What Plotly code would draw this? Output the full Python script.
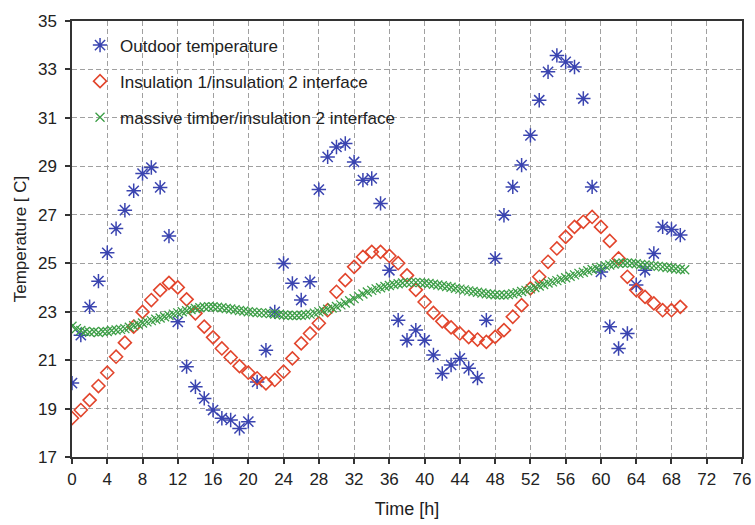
import plotly.graph_objects as go

# ---- data ----
hours = list(range(70))
outdoor = [20.05, 22.03, 23.20, 24.26, 25.43, 26.43, 27.19, 27.99, 28.70, 28.95,
           28.13, 26.12, 22.58, 20.73, 19.90, 19.42, 18.94, 18.60, 18.53, 18.18,
           18.46, 20.10, 21.41, 22.99, 24.99, 24.17, 23.48, 24.23, 28.04, 29.39,
           29.80, 29.94, 29.18, 28.43, 28.50, 27.47, 24.71, 22.65, 21.82, 22.24,
           21.82, 21.21, 20.45, 20.80, 21.07, 20.66, 20.26, 22.65, 25.20, 26.98,
           28.15, 29.05, 30.28, 31.73, 32.90, 33.58, 33.31, 33.10, 31.80, 28.15,
           24.64, 22.38, 21.48, 22.10, 24.10, 24.71, 25.40, 26.50, 26.39, 26.16]
insulation = [18.60, 18.94, 19.35, 19.93, 20.48, 21.14, 21.72, 22.38, 22.99, 23.48,
              23.89, 24.19, 24.00, 23.51, 22.93, 22.38, 21.94, 21.48, 21.11, 20.75,
              20.48, 20.25, 20.04, 20.18, 20.52, 21.07, 21.69, 22.10, 22.52, 23.06,
              23.82, 24.30, 24.85, 25.26, 25.47, 25.47, 25.30, 25.00, 24.50, 23.90,
              23.40, 22.95, 22.60, 22.35, 22.10, 21.95, 21.85, 21.75, 21.96, 22.24,
              22.79, 23.27, 23.96, 24.44, 25.06, 25.61, 26.09, 26.50, 26.71, 26.91,
              26.50, 25.92, 25.20, 24.44, 23.89, 23.61, 23.34, 23.06, 23.06, 23.20]
half_hours = [i / 2 for i in range(140)]
timber = [22.40, 22.30, 22.22, 22.18, 22.15, 22.17, 22.14, 22.18, 22.18, 22.22,
          22.24, 22.27, 22.30, 22.36, 22.42, 22.48, 22.53, 22.58, 22.63, 22.69,
          22.74, 22.79, 22.84, 22.90, 22.95, 23.00, 23.04, 23.09, 23.13, 23.16,
          23.19, 23.20, 23.20, 23.18, 23.16, 23.13, 23.11, 23.08, 23.05, 23.03,
          23.00, 22.98, 22.96, 22.95, 22.94, 22.92, 22.90, 22.88, 22.86, 22.85,
          22.84, 22.84, 22.85, 22.87, 22.90, 22.94, 22.99, 23.04, 23.10, 23.15,
          23.21, 23.28, 23.36, 23.45, 23.54, 23.64, 23.73, 23.81, 23.88, 23.94,
          23.99, 24.04, 24.08, 24.12, 24.15, 24.18, 24.20, 24.21, 24.21, 24.20,
          24.18, 24.16, 24.13, 24.10, 24.07, 24.04, 24.01, 23.97, 23.93, 23.90,
          23.86, 23.83, 23.80, 23.77, 23.74, 23.72, 23.70, 23.69, 23.69, 23.71,
          23.74, 23.78, 23.83, 23.88, 23.94, 24.00, 24.06, 24.12, 24.18, 24.23,
          24.28, 24.34, 24.40, 24.46, 24.52, 24.58, 24.63, 24.69, 24.74, 24.79,
          24.84, 24.89, 24.93, 24.97, 25.00, 25.01, 25.01, 25.00, 24.98, 24.95,
          24.93, 24.91, 24.89, 24.87, 24.85, 24.82, 24.80, 24.77, 24.75, 24.73]
x_ticks = list(range(0, 77, 4))
y_ticks = list(range(17, 36, 2))

names = ["Outdoor temperature",
         "Insulation 1/insulation 2 interface",
         "massive timber/insulation 2 interface"]

BLUE = "#3a44b0"
RED = "#e2452c"
GREEN = "#3c9e46"
FONT = "Liberation Sans, Arial, sans-serif"
TXT = "#222222"

fig = go.Figure()
fig.add_trace(go.Scatter(
    x=hours, y=outdoor, mode="markers", name=names[0], legendgroup="a",
    marker=dict(symbol="asterisk-open", size=12, color=BLUE,
                line=dict(color=BLUE, width=1.5))))
fig.add_trace(go.Scatter(
    x=hours, y=insulation, mode="markers", name=names[1], legendgroup="b",
    marker=dict(symbol="diamond-open", size=10, color=RED,
                line=dict(color=RED, width=1.6))))
fig.add_trace(go.Scatter(
    x=half_hours, y=timber, mode="markers", name=names[2], legendgroup="c",
    marker=dict(symbol="x-thin-open", size=9, color=GREEN,
                line=dict(color=GREEN, width=1.3))))

axis_common = dict(
    showline=True, linecolor="#333333", linewidth=1.5, mirror=True,
    ticks="outside", ticklen=5, tickwidth=1.5, tickcolor="#333333",
    showgrid=True, gridcolor="#a0a0a0", gridwidth=1.2, griddash="5px,3px",
    zeroline=False, automargin=False,
    tickfont=dict(family=FONT, size=17, color=TXT),
)

fig.update_xaxes(range=[0, 76], tickvals=x_ticks, ticklabelstandoff=1,
                 title=dict(text="Time [h]", font=dict(family=FONT, size=18, color=TXT),
                            standoff=14),
                 **axis_common)
fig.update_yaxes(range=[17, 35], tickvals=y_ticks, ticklabelstandoff=5,
                 title=dict(text="Temperature [ C]", font=dict(family=FONT, size=17, color=TXT),
                            standoff=7),
                 **axis_common)

fig.update_layout(
    width=755, height=525,
    margin=dict(l=72, r=13, t=21, b=68),
    paper_bgcolor="white", plot_bgcolor="white",
    font=dict(family=FONT, color=TXT),
    legend=dict(x=0.012, y=0.985, xanchor="left", yanchor="top",
                bgcolor="rgba(255,255,255,0)", borderwidth=0,
                font=dict(family=FONT, size=17, color=TXT),
                itemwidth=30, tracegroupgap=11),
    showlegend=True,
)

fig.write_html("out.html", config={"displayModeBar": False},
               post_script="document.body.style.margin='0px';")
